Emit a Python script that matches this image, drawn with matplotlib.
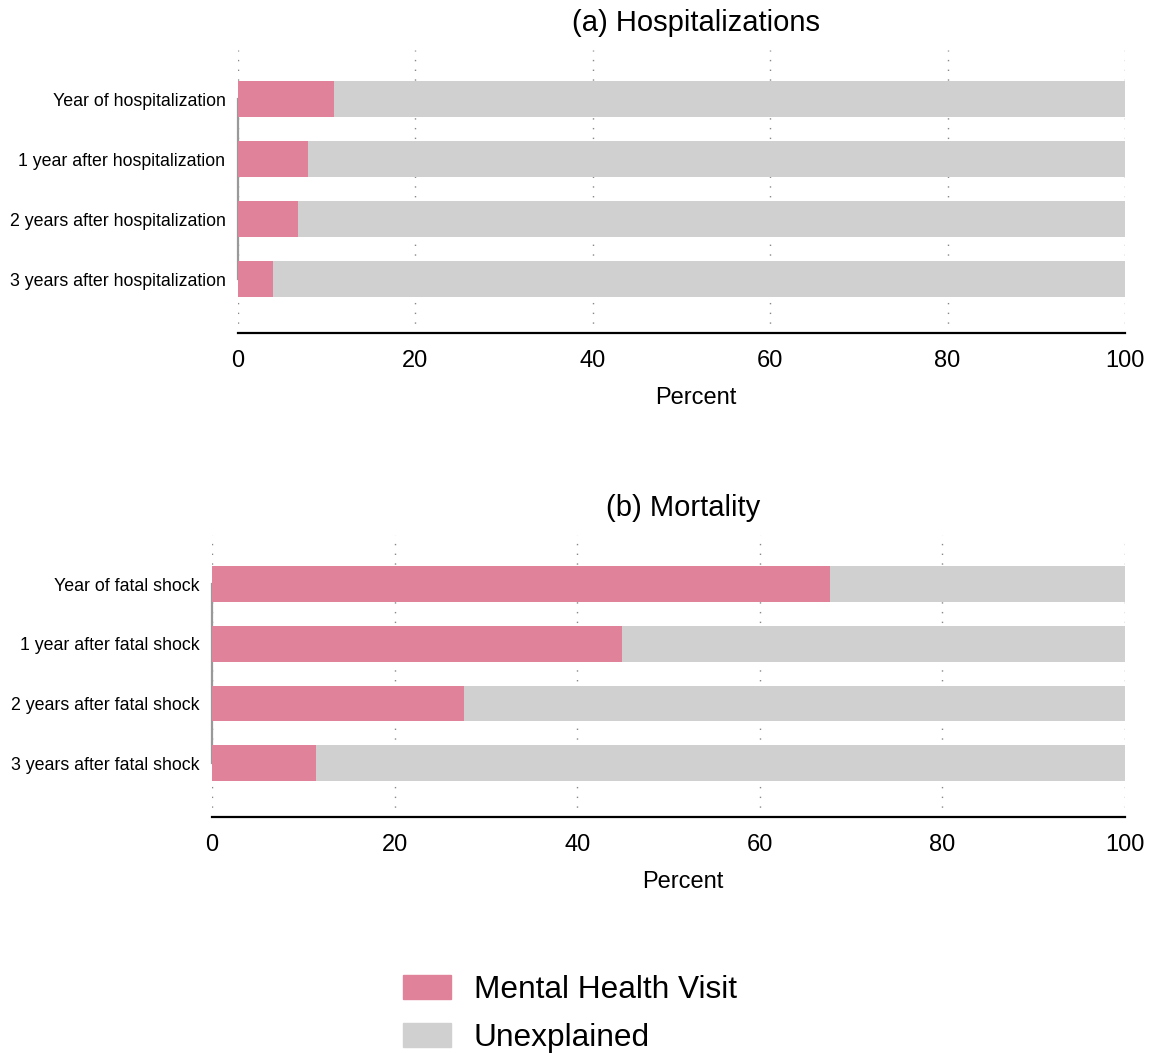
import matplotlib.pyplot as plt
from matplotlib.patches import Patch

plt.rcParams['font.family'] = ['Liberation Sans', 'DejaVu Sans']

hosp_labels = ["Year of hospitalization", "1 year after hospitalization",
               "2 years after hospitalization", "3 years after hospitalization"]
hosp_mental = [10.8, 7.9, 6.8, 3.9]

mort_labels = ["Year of fatal shock", "1 year after fatal shock",
               "2 years after fatal shock", "3 years after fatal shock"]
mort_mental = [67.7, 44.9, 27.6, 11.4]

xticks = [0, 20, 40, 60, 80, 100]

PINK = "#E08299"
GREY = "#D0D0D0"


def draw_panel(ax, labels, mental, title):
    pos = list(range(len(labels)))
    unexplained = [100 - m for m in mental]
    ax.barh(pos, mental, height=0.6, color=PINK, zorder=3)
    ax.barh(pos, unexplained, left=mental, height=0.6, color=GREY, zorder=3)
    ax.set_xlim(0, 100)
    ax.set_ylim(3.9, -0.82)
    ax.set_xticks(xticks)
    ax.set_yticks(pos)
    ax.set_yticklabels(labels, fontsize=12.8)
    ax.tick_params(axis='y', length=0, pad=9)
    ax.tick_params(axis='x', length=0, pad=12, labelsize=17)
    ax.xaxis.grid(True, color="#888888", linestyle=(0, (1, 6)), linewidth=1, zorder=0)
    for s in ['top', 'right']:
        ax.spines[s].set_visible(False)
    ax.spines['bottom'].set_color('black')
    ax.spines['bottom'].set_linewidth(1.6)
    ax.spines['left'].set_color('#999999')
    ax.spines['left'].set_linewidth(1.6)
    ax.spines['left'].set_bounds(0, 3)
    ax.set_xlabel("Percent", fontsize=17, labelpad=11, x=0.516)
    ax.set_title(title, fontsize=21, x=0.516, pad=14)


fig = plt.figure(figsize=(11.57, 10.53), dpi=100)
ax1 = fig.add_axes([0.2057, 0.6838, 0.7666, 0.2687])
ax2 = fig.add_axes([0.1832, 0.2241, 0.7891, 0.2678])

draw_panel(ax1, hosp_labels, hosp_mental, "(a) Hospitalizations")
draw_panel(ax2, mort_labels, mort_mental, "(b) Mortality")

handles = [Patch(color=PINK, label="Mental Health Visit"),
           Patch(color=GREY, label="Unexplained")]
fig.legend(handles=handles, loc='center left', bbox_to_anchor=(0.324, 0.037),
           frameon=False, fontsize=22.8, handlelength=1.5, handleheight=0.76,
           handletextpad=0.73, labelspacing=0.56)

fig.savefig("out.png", dpi=100)
